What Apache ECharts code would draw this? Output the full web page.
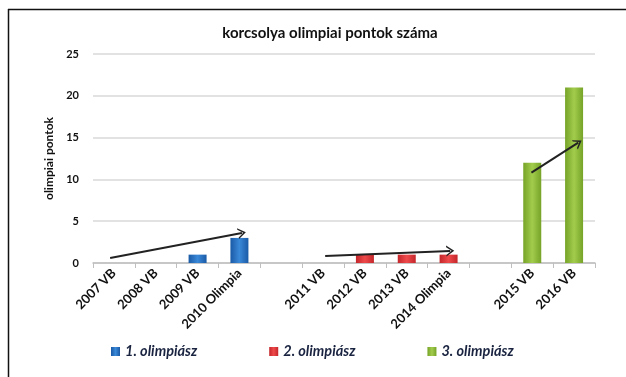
<!DOCTYPE html>
<html><head><meta charset="utf-8">
<script src="https://cdn.jsdelivr.net/npm/echarts@6/dist/echarts.min.js"></script>
<style>html,body{margin:0;padding:0;background:#fff}#c{width:626px;height:377px}</style>
</head><body><div id="c"></div>
<script>
const categories = ['2007 VB','2008 VB','2009 VB','2010 Olimpia','','2011 VB','2012 VB','2013 VB','2014 Olimpia',' ','2015 VB','2016 VB'];
const series1 = [null,null,1,3,null,null,null,null,null,null,null,null];
const series2 = [null,null,null,null,null,null,1,1,1,null,null,null];
const series3 = [null,null,null,null,null,null,null,null,null,null,12,21];
const seriesNames = ['1. olimpiász','2. olimpiász','3. olimpiász'];
const yTicks = {min:0,max:25,interval:5};
// arrows: [x0,y0,x1,y1] in slot units (x) and points (y)
const arrows = [[0.41,0.6,3.56,3.6],[5.55,0.85,8.54,1.45],[10.48,10.8,11.6,14.4]];

function grad(edge, mid){
  return new echarts.graphic.LinearGradient(0,0,1,0,[
    {offset:0,color:edge},{offset:0.5,color:mid},{offset:1,color:edge}]);
}
const F = 'Lato, "Open Sans", sans-serif';
const chart = echarts.init(document.getElementById('c'));
chart.setOption({
  animation:false,
  title:{text:'korcsolya olimpiai pontok száma',left:325,top:21,textAlign:'center',
    textStyle:{fontFamily:F,fontSize:15,fontWeight:'bold',color:'#111'}},
  grid:{left:93,right:31,top:54,bottom:114},
  legend:{bottom:13,left:106,itemWidth:9,itemHeight:9,itemGap:72,icon:'rect',
    textStyle:{fontFamily:F,fontSize:14.5,fontWeight:'bold',fontStyle:'italic',color:'#1a2440'},
    data:seriesNames},
  xAxis:[{type:'category',data:categories,
    axisLine:{lineStyle:{color:'#bfbfbf',width:1.5}},
    axisTick:{show:true,length:5,lineStyle:{color:'#bfbfbf'}},
    axisLabel:{interval:0,rotate:45,margin:8,fontFamily:F,fontSize:13,fontWeight:'bold',color:'#111'}},
    {type:'value',min:0,max:12,show:false}],
  yAxis:[{type:'value',min:yTicks.min,max:yTicks.max,interval:yTicks.interval,
    name:'olimpiai pontok',nameLocation:'middle',nameGap:36,
    nameTextStyle:{fontFamily:F,fontSize:12,fontWeight:'bold',color:'#111'},
    axisLine:{show:false},axisTick:{show:false},
    axisLabel:{fontFamily:F,fontSize:11,fontWeight:'bold',color:'#111',margin:14},
    splitLine:{lineStyle:{color:'#d9d9d9',width:1.5}}}],
  series:[
    {name:seriesNames[0],type:'bar',stack:'a',barWidth:18,data:series1,
      itemStyle:{color:grad('#1a5aa6','#3a88d8')}},
    {name:seriesNames[1],type:'bar',stack:'a',barWidth:18,data:series2,
      itemStyle:{color:grad('#c4262a','#ee4a4c')}},
    {name:seriesNames[2],type:'bar',stack:'a',barWidth:18,data:series3,
      itemStyle:{color:grad('#76a428','#a2cc4c')}},
    {type:'line',xAxisIndex:1,data:[],silent:true,
      markLine:{silent:true,symbol:['none','path://M0,12 L10,0 L20,12 L17,12 L10,4 L3,12 Z'],symbolSize:[11,8],
        label:{show:false},lineStyle:{color:'#222',width:2,type:'solid'},
        emphasis:{disabled:true},
        data:arrows.map(a=>[{coord:[a[0],a[1]]},{coord:[a[2],a[3]]}])}}
  ],
  graphic:[
    {type:'line',shape:{x1:8,y1:9.5,x2:626,y2:9.5},style:{stroke:'#111',lineWidth:1.5},silent:true},
    {type:'line',shape:{x1:8.5,y1:9,x2:8.5,y2:377},style:{stroke:'#111',lineWidth:1.5},silent:true}
  ]
});
</script></body></html>
